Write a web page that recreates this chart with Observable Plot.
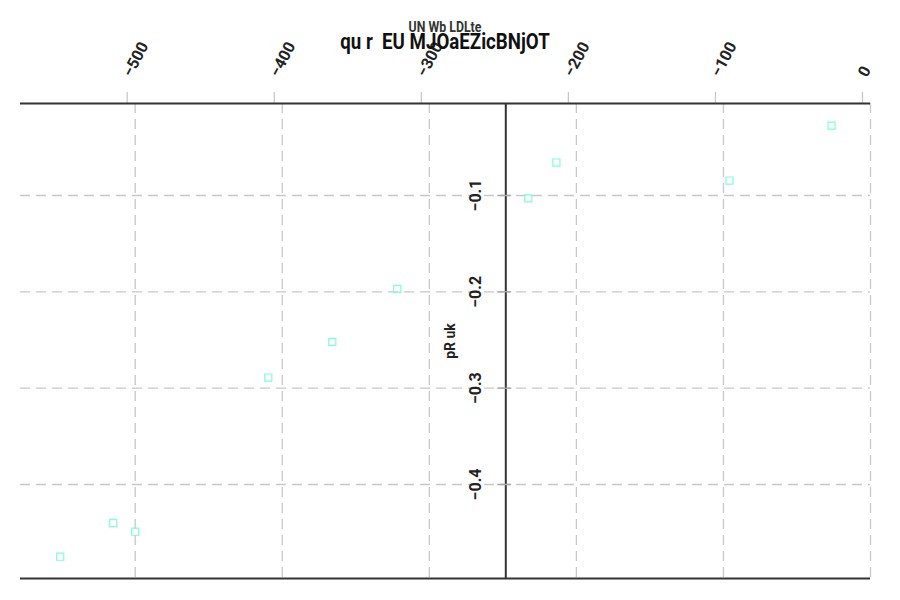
<!DOCTYPE html>
<html>
<head>
<meta charset="utf-8">
<script src="https://cdn.jsdelivr.net/npm/d3@7"></script>
<script src="https://cdn.jsdelivr.net/npm/@observablehq/plot@0.6"></script>
<style>
  html, body { margin: 0; padding: 0; background: #fff; }
  #wrap { position: relative; width: 900px; height: 600px; font-family: "Liberation Sans Narrow", Roboto, sans-serif; }
  #subtitle { position: absolute; left: 0; width: 890px; top: 19px; text-align: center; font-size: 14px; font-weight: bold; color: #333; transform: scaleX(0.88); white-space: pre; }
  #title { position: absolute; left: 0; width: 890px; top: 29px; text-align: center; font-size: 22px; font-weight: bold; color: #111; transform: scaleX(0.85); white-space: pre; }
  svg { position: absolute; left: 0; top: 0; }
</style>
</head>
<body>
<div id="wrap"></div>
<script>
const titleText = "qu r  EU MJOaEZicBNjOT";
const subtitleText = "UN Wb LDLte";
const yLabel = "pR uk";
const xValues = [-26.5, -213.6, -95.9, -232.7, -321.8, -366, -409.5, -515, -500, -551];
const yValues = [-0.0275, -0.0658, -0.0845, -0.103, -0.197, -0.252, -0.289, -0.44, -0.449, -0.475];
const xTicks = [-500, -400, -300, -200, -100, 0];
const yTicks = [-0.1, -0.2, -0.3, -0.4];
const xDomain = [-578, 0];
const yDomain = [-0.4976, -0.0045];
const yAxisAt = -248;

const data = xValues.map((x, i) => ({x, y: yValues[i]}));
const fmt = d => String(d).replace("-", "\u2212");
const font = "'Liberation Sans Narrow', Roboto, sans-serif";

const plot = Plot.plot({
  width: 900,
  height: 600,
  marginTop: 103,
  marginBottom: 22,
  marginLeft: 20,
  marginRight: 30,
  style: {fontFamily: font, background: "transparent"},
  x: {domain: xDomain},
  y: {domain: yDomain, axis: null},
  marks: [
    Plot.gridX(xTicks, {stroke: "#c8c8c8", strokeOpacity: 1, strokeWidth: 1.3, strokeDasharray: "10,6"}),
    Plot.gridY(yTicks, {stroke: "#c8c8c8", strokeOpacity: 1, strokeWidth: 1.3, strokeDasharray: "10,6"}),
    Plot.axisX(xTicks, {anchor: "top", tickSize: 12, tickRotate: -62, stroke: "#c8c8c8", strokeWidth: 1.3, tickPadding: 16, dx: -8,
      fontSize: 16, fontWeight: "bold", fill: "#222", tickFormat: fmt, label: null}),
    Plot.ruleY([yDomain[1], yDomain[0]], {stroke: "#333", strokeWidth: 2}),
    Plot.ruleX([yAxisAt], {stroke: "#333", strokeWidth: 2}),
    Plot.ruleY(yTicks, {y: d => d, x1: yAxisAt - 5.5, x2: yAxisAt + 4, stroke: "#aaa", strokeWidth: 1.5}),
    Plot.text(yTicks, {y: d => d, x: yAxisAt, dx: -30, rotate: -90, text: fmt, fontSize: 16, fontWeight: "bold", fill: "#222"}),
    Plot.text([yLabel], {x: yAxisAt, dx: -55, frameAnchor: "middle", rotate: -90, text: d => d, fontSize: 14, fontWeight: "bold", fill: "#222"}),
    Plot.dot(data, {x: "x", y: "y", symbol: "square", r: 4, stroke: "#7fffd4", strokeWidth: 1.2, fill: "none"})
  ]
});

const wrap = document.getElementById("wrap");
wrap.appendChild(plot);
const st = document.createElement("div"); st.id = "subtitle"; st.textContent = subtitleText; wrap.appendChild(st);
const t = document.createElement("div"); t.id = "title"; t.textContent = titleText; wrap.appendChild(t);
</script>
</body>
</html>
